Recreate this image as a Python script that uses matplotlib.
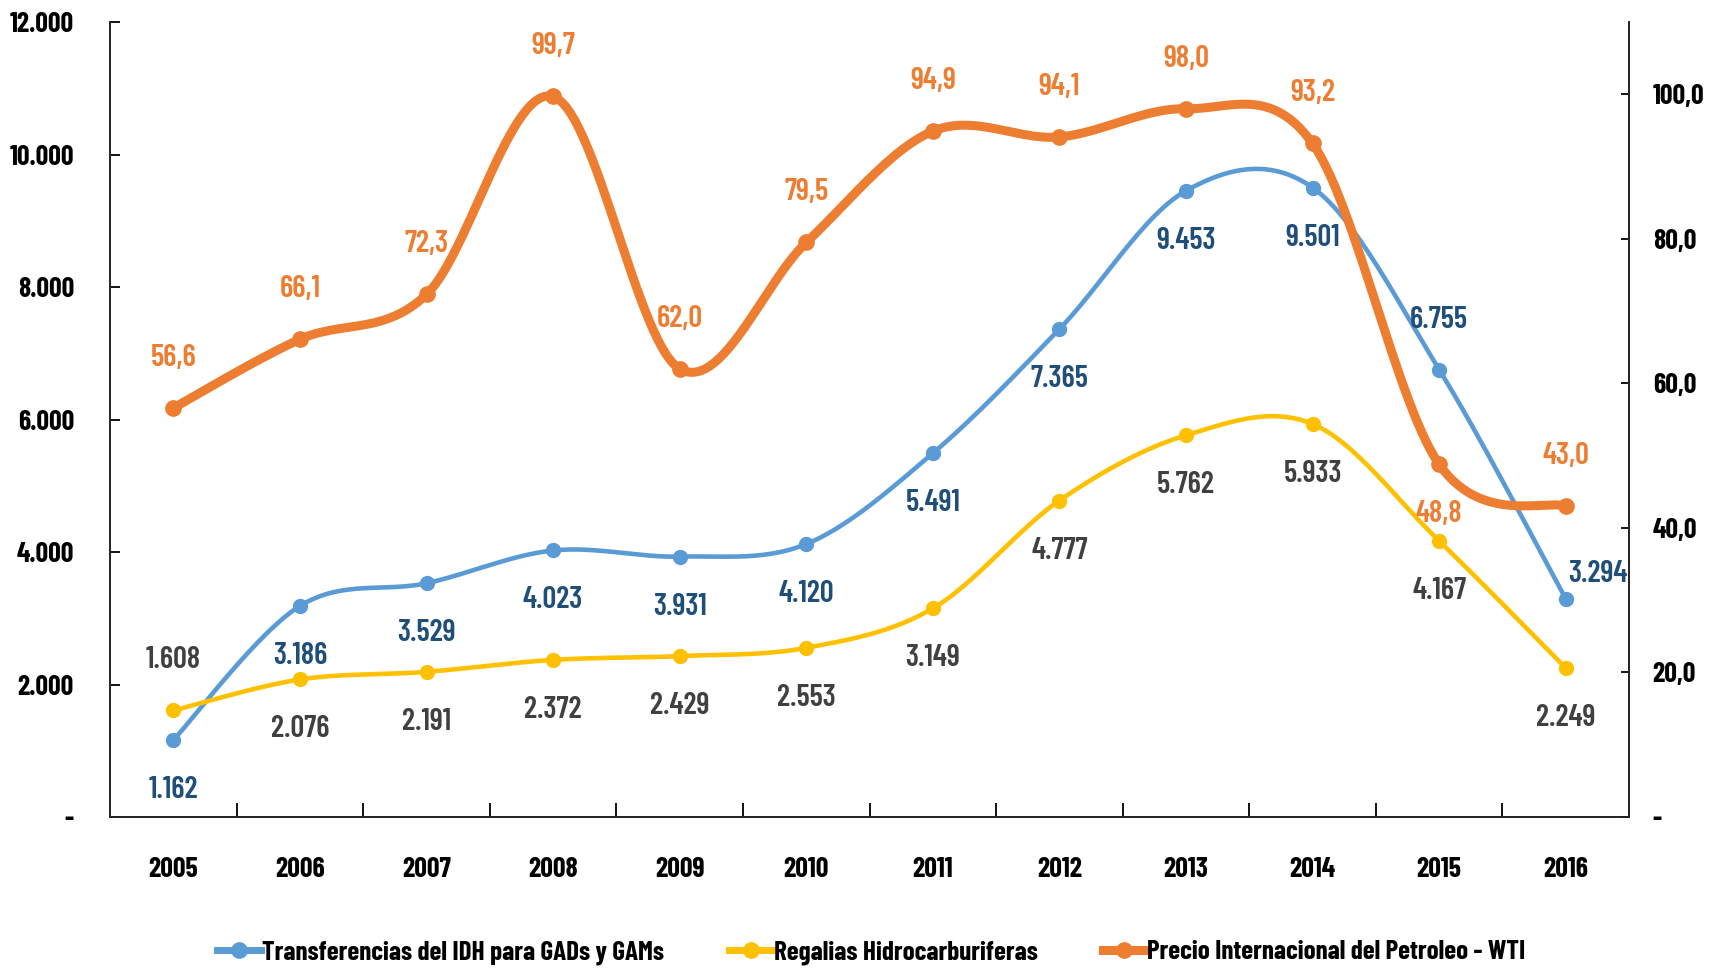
import numpy as np
import matplotlib.pyplot as plt
from matplotlib.lines import Line2D

plt.rcParams['font.family'] = ['Barlow Condensed', 'DejaVu Sans']

# === Datos ===
years = ["2005", "2006", "2007", "2008", "2009", "2010", "2011", "2012", "2013", "2014", "2015", "2016"]
transferencias = [1162, 3186, 3529, 4023, 3931, 4120, 5491, 7365, 9453, 9501, 6755, 3294]
regalias = [1608, 2076, 2191, 2372, 2429, 2553, 3149, 4777, 5762, 5933, 4167, 2249]
wti = [56.6, 66.1, 72.3, 99.7, 62.0, 79.5, 94.9, 94.1, 98.0, 93.2, 48.8, 43.0]

left_ticks = [0, 2000, 4000, 6000, 8000, 10000, 12000]
right_ticks = [0, 20, 40, 60, 80, 100]

# posicion de etiquetas: 'a' arriba, 'b' abajo, 'r' derecha
pos_transf = ['b'] * 10 + ['a', 'r']
pos_regal = ['a'] + ['b'] * 11
pos_wti = ['a'] * 10 + ['b', 'a']

AZUL = "#5B9BD5"
AMARILLO = "#FFC000"
NARANJA = "#ED7D31"


def fmt_miles(v):
    return "-" if v == 0 else f"{v:,.0f}".replace(",", ".")


def fmt_dec(v):
    return "-" if v == 0 else f"{v:.1f}".replace(".", ",")


def suavizar(x, y, n=30):
    # curva tipo Excel (Catmull-Rom) entre puntos
    x = np.asarray(x, float)
    y = np.asarray(y, float)
    px = np.concatenate([[x[0]], x, [x[-1]]])
    py = np.concatenate([[y[0]], y, [y[-1]]])
    xs, ys = [], []
    t = np.linspace(0, 1, n)
    for i in range(1, len(px) - 2):
        p0, p1, p2, p3 = (np.array([px[j], py[j]]) for j in range(i - 1, i + 3))
        c1 = p1 + (p2 - p0) / 6
        c2 = p2 - (p3 - p1) / 6
        b = ((1 - t) ** 3)[:, None] * p1 + (3 * (1 - t) ** 2 * t)[:, None] * c1 \
            + (3 * (1 - t) * t ** 2)[:, None] * c2 + (t ** 3)[:, None] * p2
        xs.extend(b[:, 0])
        ys.extend(b[:, 1])
    return np.array(xs), np.array(ys)


def etiquetas(ax, xs, vals, pos, fmt, color, dy=36):
    for x, v, p in zip(xs, vals, pos):
        if p == 'a':
            off, ha = (0, dy), 'center'
        elif p == 'b':
            off, ha = (0, -dy), 'center'
        else:
            off, ha = (2, 18), 'left'
        ax.annotate(fmt(v), (x, v), xytext=off, textcoords='offset points',
                    ha=ha, va='center', fontsize=22, fontweight='semibold', color=color)


fig, ax = plt.subplots(figsize=(17.09, 9.71), dpi=100)
fig.subplots_adjust(left=0.0644, right=0.9532, top=0.9773, bottom=0.1586)
ax2 = ax.twinx()

x = np.arange(len(years))

sx, sy = suavizar(x, transferencias)
ax.plot(sx, sy, color=AZUL, lw=3.3, solid_capstyle='round', zorder=3)
ax.plot(x, transferencias, 'o', color=AZUL, ms=10, zorder=4)

sx, sy = suavizar(x, regalias)
ax.plot(sx, sy, color=AMARILLO, lw=3.3, solid_capstyle='round', zorder=3)
ax.plot(x, regalias, 'o', color=AMARILLO, ms=10, zorder=4)

sx, sy = suavizar(x, wti)
ax2.plot(sx, sy, color=NARANJA, lw=6.5, solid_capstyle='round', zorder=3)
ax2.plot(x, wti, 'o', color=NARANJA, ms=11, zorder=4)

etiquetas(ax, x, transferencias, pos_transf, fmt_miles, "#1F4E79")
etiquetas(ax, x, regalias, pos_regal, fmt_miles, "#404040")
etiquetas(ax2, x, wti, pos_wti, fmt_dec, NARANJA)

# === Ejes ===
ax.set_xlim(-0.5, len(years) - 0.5)
ax.set_ylim(0, 12000)
ax2.set_ylim(0, 110)

ax.set_yticks(left_ticks)
ax.set_yticklabels([fmt_miles(v) for v in left_ticks])
ax2.set_yticks(right_ticks)
ax2.set_yticklabels([fmt_dec(v) for v in right_ticks])

ax.set_xticks(x)
ax.set_xticklabels(years)
ax.set_xticks(np.arange(0.5, len(years) - 1, 1), minor=True)
ax.tick_params(axis='x', which='major', length=0, pad=29, labelsize=20)
ax.tick_params(axis='x', which='minor', direction='in', length=10, width=1.3)
ax.tick_params(axis='y', direction='in', length=7, width=1.3, pad=26, labelsize=20)
ax2.tick_params(axis='y', direction='in', length=6, width=1.3, pad=17, labelsize=20)
for lab in ax.get_xticklabels() + ax.get_yticklabels() + ax2.get_yticklabels():
    lab.set_fontweight('bold')

for a in (ax, ax2):
    a.spines['top'].set_visible(False)
    for s in ('left', 'right', 'bottom'):
        a.spines[s].set_linewidth(1.3)
        a.spines[s].set_color('#262626')

# === Leyenda ===
handles = [
    Line2D([], [], color=AZUL, lw=5, marker='o', ms=11),
    Line2D([], [], color=AMARILLO, lw=5, marker='o', ms=11),
    Line2D([], [], color=NARANJA, lw=6.5, marker='o', ms=11),
]
nombres = ["Transferencias del IDH para GADs y GAMs", "Regalias Hidrocarburiferas",
           "Precio Internacional del Petroleo - WTI"]
fig.legend(handles, nombres, loc='center', bbox_to_anchor=(0.51, 0.019), ncol=3,
           frameon=False, handlelength=1.6, handletextpad=0.05, columnspacing=2.4,
           prop={'size': 19.5, 'weight': 'bold'})

fig.savefig("out.png", dpi=100)
